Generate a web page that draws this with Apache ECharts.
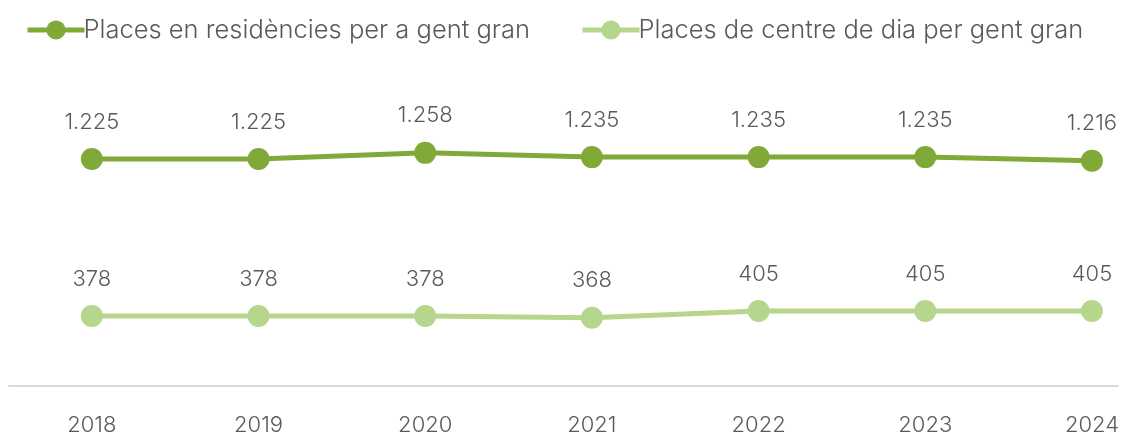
<!DOCTYPE html>
<html>
<head>
<meta charset="utf-8">
<script src="https://cdn.jsdelivr.net/npm/echarts@6/dist/echarts.min.js"></script>
<style>
  html, body { margin: 0; padding: 0; background: #fff; }
  #chart { width: 1122px; height: 436px; }
</style>
</head>
<body>
<div id="chart"></div>
<script>
const years = [2018, 2019, 2020, 2021, 2022, 2023, 2024]
const residencies = [1225, 1225, 1258, 1235, 1235, 1235, 1216]
const centreDia = [378, 378, 378, 368, 405, 405, 405]
const seriesNames = ['Places en residències per a gent gran', 'Places de centre de dia per gent gran']

const textColor = '#595959'
const font = 'Inter, "Open Sans", sans-serif'

// 1225 -> "1.225"
const fmt = v => {
  const s = String(v)
  return s.length > 3 ? s.slice(0, s.length - 3) + '.' + s.slice(-3) : s
}

const pairs = arr => arr.map((v, i) => [years[i], v])

const chart = echarts.init(document.getElementById('chart'))

const mkSeries = (name, data, color) => ({
  name,
  type: 'line',
  data: pairs(data),
  symbol: 'circle',
  symbolSize: 22,
  lineStyle: { width: 5, color },
  itemStyle: { color },
  label: {
    show: true,
    position: 'top',
    distance: 15,
    color: textColor,
    fontFamily: font,
    fontWeight: 300,
    fontSize: 22,
    formatter: p => fmt(p.value[1])
  }
})

chart.setOption({
  animation: false,
  legend: {
    top: 12,
    left: 20,
    itemWidth: 57,
    itemHeight: 24,
    itemGap: 50,
    lineStyle: { width: 5 },
    textStyle: { color: textColor, fontFamily: font, fontWeight: 300, fontSize: 25.5, padding: [0, 0, 0, -6] },
    data: seriesNames
  },
  grid: { left: 9, right: 2, top: 108, bottom: 49, containLabel: false },
  xAxis: {
    type: 'value',
    min: 2017.503,
    max: 2024.156,
    splitLine: { show: false },
    axisLine: { show: true, lineStyle: { color: '#d9d9d9', width: 2 } },
    axisTick: { show: false },
    axisLabel: {
      customValues: years,
      margin: 28,
      color: textColor,
      fontFamily: font,
      fontWeight: 300,
      fontSize: 22,
      formatter: v => String(v)
    }
  },
  yAxis: {
    type: 'value',
    min: 0,
    max: 1500,
    show: false
  },
  series: [
    mkSeries(seriesNames[0], residencies, '#80a938'),
    mkSeries(seriesNames[1], centreDia, '#b6d58d')
  ]
})
</script>
</body>
</html>
